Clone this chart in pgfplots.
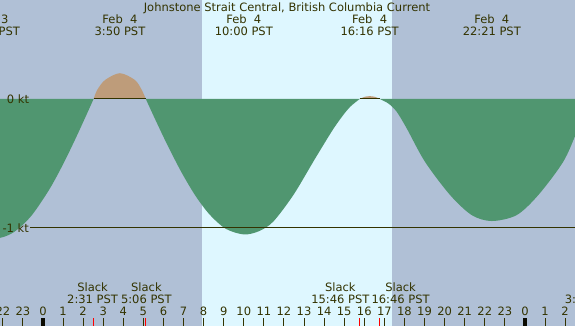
\documentclass[border=0pt]{standalone}
\usepackage{fontspec}
\setmainfont{DejaVu Sans}
\usepackage{pgfplots}
\pgfplotsset{compat=1.18}
\definecolor{nightc}{RGB}{176,192,214}
\definecolor{dayc}{RGB}{222,247,255}
\definecolor{ebbc}{RGB}{80,150,112}
\definecolor{floodc}{RGB}{190,156,122}
\definecolor{txtc}{RGB}{51,51,0}
\begin{document}
\begin{tikzpicture}[lbl/.style={font=\fontsize{11.5}{13}\selectfont, text=txtc, inner sep=0pt, anchor=base}]
\begin{axis}[
  width=575pt, height=326pt, scale only axis,
  xmin=-2.141, xmax=26.494, ymin=-1.7597, ymax=0.7674,
  axis background/.style={fill=nightc},
  axis line style={draw=none},
  axis on top,
  ytick=\empty,
  xtick={-2,...,26},
  xticklabels={22,23,0,1,2,3,4,5,6,7,8,9,10,11,12,13,14,15,16,17,18,19,20,21,22,23,0,1,2},
  xtick pos=left,
  tick align=inside,
  major tick length=8pt,
  tick style={color=txtc, line width=1pt},
  xticklabel style={anchor=base, yshift=10.5pt, font=\fontsize{11.5}{13}\selectfont, text=txtc, inner sep=0pt},
  extra x ticks={0,24},
  extra x tick labels={},
  extra x tick style={tick style={line width=3.6pt, color=black!80!txtc}},
]
\coordinate (sw) at (rel axis cs:0,0);
\coordinate (ne) at (rel axis cs:1,1);
% daylight
\addplot[fill=dayc, draw=none] coordinates {(7.92,-2) (17.37,-2) (17.37,1) (7.92,1)} -- cycle;
% ebb segments
\addplot[fill=ebbc, draw=none, smooth] coordinates {
(-7.28,0) (-6.0,-0.431) (-4.5,-0.840) (-3.4,-1.023) (-2.38,-1.08) (-1.5,-1.037) (-0.6,-0.909) (0.3,-0.705) (1.0,-0.506) (1.6,-0.314) (2.1,-0.145) (2.52,0)};
\addplot[fill=ebbc, draw=none, smooth] coordinates {
(5.12,0) (5.6,-0.162) (6.2,-0.358) (6.9,-0.569) (7.6,-0.752) (8.3,-0.896) (9.1,-1.006) (10.0,-1.05) (10.75,-1.025) (11.47,-0.95) (12.47,-0.744) (13.46,-0.486) (14.0,-0.347) (14.46,-0.232) (14.9,-0.135) (15.3,-0.06) (15.77,0)};
\addplot[fill=ebbc, draw=none, smooth] coordinates {
(16.77,0) (17.2,-0.035) (17.61,-0.098) (18.11,-0.227) (19.02,-0.486) (20.27,-0.744) (21.35,-0.9) (22.35,-0.946) (23.59,-0.9) (24.67,-0.744) (25.91,-0.486) (26.6,-0.25) (27.3,0)};
% flood segments
\addplot[fill=floodc, draw=none, smooth] coordinates {
(2.52,0) (2.70,0.07) (3.09,0.147) (3.83,0.2) (4.58,0.147) (4.92,0.07) (5.12,0)};
\addplot[fill=floodc, draw=none, smooth] coordinates {
(15.77,0) (16.0,0.016) (16.27,0.022) (16.55,0.016) (16.77,0)};
% reference lines
\addplot[txtc, line width=1pt] coordinates {(2.52,0) (5.12,0)};
\addplot[txtc, line width=1pt] coordinates {(15.77,0) (16.77,0)};
\addplot[txtc, line width=1pt] coordinates {(-0.65,-1) (27,-1)};
% slack ticks
\addplot[only marks, mark=|, mark size=4pt, color=red, mark options={line width=1pt}] coordinates {(2.517,-1.729) (5.1,-1.729) (15.767,-1.729) (16.767,-1.729)};
% labels
\node[lbl, anchor=west] at (axis cs:-2.141,0) [xshift=6.7pt] {0 kt};
\node[lbl, anchor=west] at (axis cs:-2.141,-1) [xshift=2.3pt] {-1 kt};
\node[lbl] at (axis cs:12.15,0.678) {Johnstone Strait Central, British Columbia Current};
\node[lbl] at (axis cs:-2.59,0.589) {Feb\ \ 3};
\node[lbl] at (axis cs:-2.59,0.4884) {21:25 PST};
\node[lbl] at (axis cs:3.833,0.589) {Feb\ \ 4};
\node[lbl] at (axis cs:3.833,0.4884) {3:50 PST};
\node[lbl] at (axis cs:10.0,0.589) {Feb\ \ 4};
\node[lbl] at (axis cs:10.0,0.4884) {10:00 PST};
\node[lbl] at (axis cs:16.267,0.589) {Feb\ \ 4};
\node[lbl] at (axis cs:16.267,0.4884) {16:16 PST};
\node[lbl] at (axis cs:22.35,0.589) {Feb\ \ 4};
\node[lbl] at (axis cs:22.35,0.4884) {22:21 PST};
\node[lbl] at (axis cs:2.47,-1.494) {Slack};
\node[lbl] at (axis cs:2.47,-1.589) {2:31 PST};
\node[lbl] at (axis cs:5.15,-1.494) {Slack};
\node[lbl] at (axis cs:5.15,-1.589) {5:06 PST};
\node[lbl] at (axis cs:14.81,-1.494) {Slack};
\node[lbl] at (axis cs:14.81,-1.589) {15:46 PST};
\node[lbl] at (axis cs:17.81,-1.494) {Slack};
\node[lbl] at (axis cs:17.81,-1.589) {16:46 PST};
\node[lbl] at (axis cs:27.25,-1.494) {Slack};
\node[lbl] at (axis cs:27.25,-1.589) {3:15 PST};
\end{axis}
\pgfresetboundingbox
\path[use as bounding box] (sw) rectangle (ne);
\end{tikzpicture}
\end{document}
